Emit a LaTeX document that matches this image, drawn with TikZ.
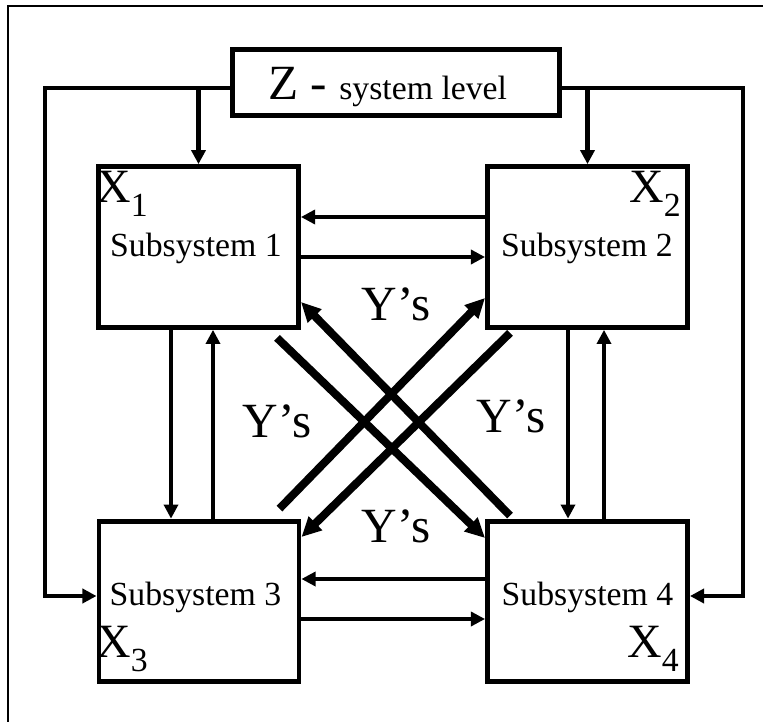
\documentclass[tikz,border=0pt]{standalone}
\usepackage{fontspec}
\setmainfont{Liberation Serif}
\usetikzlibrary{arrows.meta,calc}
\newcommand{\subx}[1]{{\fontsize{34}{34}\selectfont X}\raisebox{-10pt}{\fontsize{24}{24}\selectfont #1}}

\begin{document}
\begin{tikzpicture}[x=0.025cm,y=-0.025cm,
    subsys/.style={draw,line width=3.5pt,minimum width=5cm,minimum height=4.02cm,inner sep=0pt},
    zbox/.style={draw,line width=3.5pt,minimum width=8.175cm,minimum height=1.65cm,inner sep=0pt},
    conn/.style={line width=2.3pt,-{Triangle[length=10pt,width=10pt]}},
    feed/.style={line width=3pt,-{Triangle[length=10pt,width=10pt]}},
    ylink/.style={line width=5.7pt,-{Triangle[length=14pt,width=13pt]}},
    btxt/.style={anchor=base,inner sep=0pt,font=\fontsize{24}{24}\selectfont},
    ytxt/.style={anchor=base,inner sep=0pt,font=\fontsize{35}{35}\selectfont},
    xtxt/.style={anchor=base west,inner sep=0pt}]
  \useasboundingbox (0,0) rectangle (763,722);
  % frame
  \draw[line width=1.6pt] (8,722) -- (8,6) -- (763,6);

  % boxes
  \node[zbox] (zsys) at (396,82.5) {};
  \node[subsys] (sub1) at (198.5,247) {};
  \node[subsys] (sub2) at (587.5,247) {};
  \node[subsys] (sub3) at (199,601.5) {};
  \node[subsys] (sub4) at (587.5,601.5) {};

  % texts
  \node[anchor=base west,inner sep=0pt] (ztxt) at (268,100)
    {\fontsize{35}{35}\selectfont Z - \fontsize{24}{24}\selectfont system level};
  \node[btxt] (t1) at (196,257) {Subsystem 1};
  \node[btxt] (t2) at (587,257) {Subsystem 2};
  \node[btxt] (t3) at (195.5,605) {Subsystem 3};
  \node[btxt] (t4) at (587.5,605) {Subsystem 4};
  \node[xtxt] (x1) at (96,202) {\subx{1}};
  \node[xtxt] (x2) at (629,202) {\subx{2}};
  \node[xtxt] (x3) at (96,657) {\subx{3}};
  \node[xtxt] (x4) at (627,657) {\subx{4}};
  \node[ytxt] (ytop) at (396,320) {Y’s};
  \node[ytxt] (yleft) at (277,437) {Y’s};
  \node[ytxt] (yright) at (511,432) {Y’s};
  \node[ytxt] (ybot) at (396,542) {Y’s};

  % system level links
  \draw[feed] (zsys.west |- 0,88) -| (45,596) -- (sub3.west |- 0,596);
  \draw[feed] (zsys.east |- 0,88) -| (743,596) -- (sub4.east |- 0,596);
  \draw[feed] (sub1.north |- 0,88) -- (sub1.north);
  \draw[feed] (sub2.north |- 0,88) -- (sub2.north);

  % side links
  \draw[conn] (sub2.west |- 0,217) -- (sub1.east |- 0,217);
  \draw[conn] (sub1.east |- 0,257) -- (sub2.west |- 0,257);
  \draw[conn] (sub4.west |- 0,579) -- (sub3.east |- 0,579);
  \draw[conn] (sub3.east |- 0,619) -- (sub4.west |- 0,619);
  \draw[conn] (sub1.south -| 171,0) -- (sub3.north -| 171,0);
  \draw[conn] (sub3.north -| 213,0) -- (sub1.south -| 213,0);
  \draw[conn] (sub2.south -| 568,0) -- (sub4.north -| 568,0);
  \draw[conn] (sub4.north -| 604,0) -- (sub2.south -| 604,0);

  % cross links
  \draw[ylink] ($(sub1.south east)+(-24,8)$) -- (sub4.west |- 0,538);
  \draw[ylink] ($(sub4.north west)+(25,-3)$) -- (sub1.east |- 0,302);
  \draw[ylink] ($(sub3.north east)+(-22,-10)$) -- (sub2.west |- 0,298);
  \draw[ylink] ($(sub2.south west)+(25,3)$) -- (sub3.east |- 0,537);
\end{tikzpicture}
\end{document}
